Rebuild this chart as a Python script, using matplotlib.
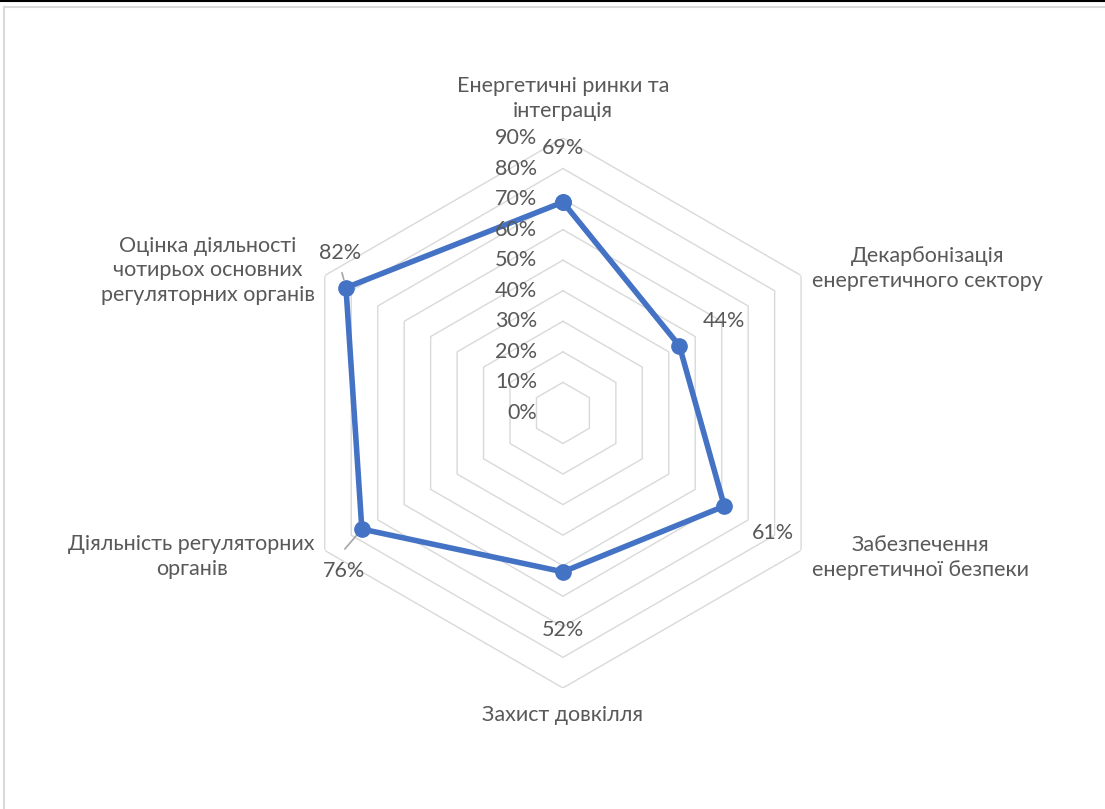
import numpy as np
import matplotlib.pyplot as plt
from matplotlib.lines import Line2D

# categories and scores
categories = ['Енергетичні ринки та\nінтеграція',
              'Декарбонізація\nенергетичного сектору',
              'Забезпечення\nенергетичної безпеки',
              'Захист довкілля',
              'Діяльність регуляторних\nорганів',
              'Оцінка діяльності\nчотирьох основних\nрегуляторних органів']
values = [0.69, 0.44, 0.61, 0.52, 0.76, 0.82]
value_labels = ['69%', '44%', '61%', '52%', '76%', '82%']
ticks = [0.0, 0.1, 0.2, 0.3, 0.4, 0.5, 0.6, 0.7, 0.8, 0.9]
tick_labels = ['0%', '10%', '20%', '30%', '40%', '50%', '60%', '70%', '80%', '90%']

plt.rcParams['font.family'] = ['Lato', 'DejaVu Sans']
txt = '#595959'
blue = '#4472C4'
grid = '#D9D9D9'
fs = 15.5

fig = plt.figure(figsize=(11.05, 8.09), dpi=100)
ax = fig.add_axes([0.2606, 0.1496, 0.4977, 0.6799], projection='polar')
ax.set_theta_offset(np.pi / 2)
ax.set_theta_direction(-1)
ax.set_ylim(0, 0.9)
ax.grid(False)
ax.spines['polar'].set_visible(False)
ax.set_xticks([])
ax.set_yticks([])
ax.patch.set_alpha(0)

n = len(categories)
ang = np.arange(n) * 2 * np.pi / n
ang_c = np.append(ang, ang[0])

# hexagonal gridlines
for t in ticks[1:]:
    ax.plot(ang_c, [t] * (n + 1), color=grid, lw=1.0, zorder=1)

# axis tick labels
for t, lab in zip(ticks, tick_labels):
    ax.annotate(lab, (0, t), xytext=(-26, 0), textcoords='offset pixels',
                ha='right', va='center', fontsize=fs, color=txt, zorder=5)

# series
vals_c = np.append(values, values[0])
ax.plot(ang_c, vals_c, color=blue, lw=4.0, marker='o', markersize=11,
        solid_joinstyle='round', zorder=3, clip_on=False)

# data labels
lab_off = [(0, 54), (45, 25), (49, -27), (0, -58), (-18, -42), (-6, 35)]
for a, v, lab, off in zip(ang, values, value_labels, lab_off):
    ax.annotate(lab, (a, v), xytext=off, textcoords='offset pixels',
                ha='center', va='center', fontsize=fs, color=txt, zorder=6)

# leader lines for 76% and 82%
for i, d1 in zip([4, 5], [(-17, -20), (-4, 15)]):
    ax.annotate('', (ang[i], values[i]), xytext=d1, textcoords='offset pixels',
                arrowprops=dict(arrowstyle='-', color='#A6A6A6', lw=1.2,
                                shrinkA=0, shrinkB=6), zorder=2)

# category labels
cat_pos = [((0, 17), 'center', 'bottom'),
           ((11, 7), 'left', 'center'),
           ((11, -7), 'left', 'center'),
           ((0, -17), 'center', 'top'),
           ((-10, -6), 'right', 'center'),
           ((-10, 5), 'right', 'center')]
for a, c, (off, ha, va) in zip(ang, categories, cat_pos):
    ax.annotate(c, (a, 0.9), xytext=off, textcoords='offset pixels',
                ha=ha, va=va, multialignment='center', fontsize=fs,
                color=txt, linespacing=1.3, annotation_clip=False)

# chart frame
fig.add_artist(Line2D([4 / 1105, 4 / 1105], [0, 1 - 7 / 809], color='#D9D9D9', lw=1.5))
fig.add_artist(Line2D([4 / 1105, 1], [1 - 7 / 809, 1 - 7 / 809], color='#D9D9D9', lw=1.5))
fig.add_artist(Line2D([0, 1], [1 - 1 / 809, 1 - 1 / 809], color='black', lw=1.5))

fig.savefig('out.png', dpi=100)
